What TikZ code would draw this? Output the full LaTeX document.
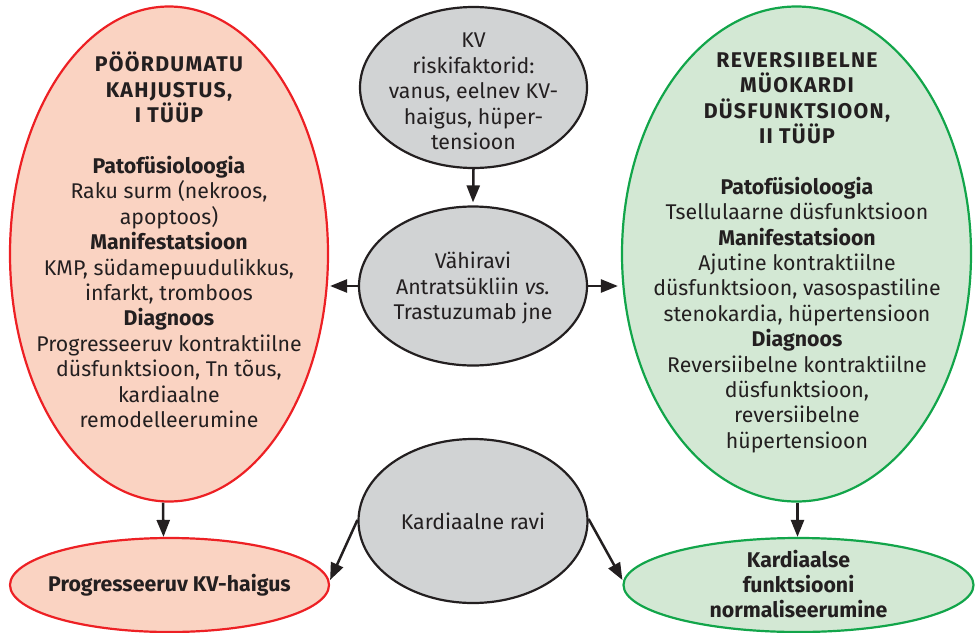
\documentclass[tikz,border=0pt]{standalone}
\usepackage{fontspec}
\setmainfont{Fira Sans}
\usetikzlibrary{shapes.geometric,arrows.meta}
\definecolor{txtc}{HTML}{231F20}
\definecolor{pinkfill}{HTML}{FAD3C2}
\definecolor{redline}{HTML}{ED2024}
\definecolor{greenfill}{HTML}{D3E8D4}
\definecolor{greenline}{HTML}{12A54A}
\definecolor{grayfill}{HTML}{D1D3D4}
\newcommand{\hd}[1]{{\bfseries\addfontfeatures{LetterSpace=6}#1}}
\tikzset{
  shp/.style={ellipse, inner sep=0pt, line width=2.2pt},
  redell/.style={shp, draw=redline, fill=pinkfill},
  greenell/.style={shp, draw=greenline, fill=greenfill},
  grayell/.style={shp, draw=txtc, fill=grayfill},
  tx/.style={align=center, text=txtc, inner sep=0pt, font=\fontsize{21.3}{25.4}\selectfont},
  arr/.style={draw=txtc, line width=2.5pt, -{Triangle[length=17pt,width=13pt]}}
}
\begin{document}
\begin{tikzpicture}[x=1pt,y=-1pt]
\useasboundingbox (0,0) rectangle (977,632);
% shapes
\node[redell, minimum width=318pt, minimum height=495pt] (L) at (169,254) {};
\node[greenell, minimum width=349pt, minimum height=495pt] (R) at (796.5,254) {};
\node[grayell, minimum width=227pt, minimum height=161pt] (T) at (473.5,87.5) {};
\node[grayell, minimum width=228pt, minimum height=159pt] (M) at (473,286) {};
\node[grayell, minimum width=229pt, minimum height=164pt] (B) at (473,521) {};
\node[redell, minimum width=319pt, minimum height=94pt] (LB) at (169.5,585) {};
\node[greenell, minimum width=350pt, minimum height=94pt] (RB) at (798.5,585) {};
% texts
\node[tx] (Lt) at (169,240) {\hd{PÖÖRDUMATU}\\ \hd{KAHJUSTUS,}\\ \hd{I TÜÜP}\\[25.4pt]
  \textbf{Patofüsioloogia}\\ Raku surm (nekroos,\\ apoptoos)\\ \textbf{Manifestatsioon}\\
  KMP, südamepuudulikkus,\\ infarkt, tromboos\\ \textbf{Diagnoos}\\
  Progresseeruv kontraktiilne\\ düsfunktsioon, Tn tõus,\\ kardiaalne\\ remodelleerumine};
\node[tx] (Rt) at (797,252.5) {\hd{REVERSIIBELNE}\\ \hd{MÜOKARDI}\\ \hd{DÜSFUNKTSIOON,}\\ \hd{II TÜÜP}\\[25.4pt]
  \textbf{Patofüsioloogia}\\ Tsellulaarne düsfunktsioon\\ \textbf{Manifestatsioon}\\
  Ajutine kontraktiilne\\ düsfunktsioon, vasospastiline\\ stenokardia, hüpertensioon\\
  \textbf{Diagnoos}\\ Reversiibelne kontraktiilne\\ düsfunktsioon,\\ reversiibelne\\ hüpertensioon};
\node[tx] (Tt) at ([yshift=-4pt]T.center) {KV\\ riskifaktorid:\\ vanus, eelnev KV-\\ haigus, hüper-\\ tensioon};
\node[tx] (Mt) at ([yshift=-2pt]M.center) {Vähiravi\\ Antratsükliin \textit{vs.}\\ Trastuzumab jne};
\node[tx] (Bt) at (B.center) {Kardiaalne ravi};
\node[tx, font=\fontsize{21.3}{25.4}\selectfont\bfseries] (LBt) at (LB.center) {Progresseeruv KV-haigus};
\node[tx, font=\fontsize{21.3}{25.4}\selectfont\bfseries] (RBt) at ([yshift=1pt]RB.center) {Kardiaalse\\ funktsiooni\\ normaliseerumine};
% connectors
\draw[arr] (T.south) -- ([yshift=3pt]M.north);
\draw[arr] (M.west) -- ([xshift=1pt]M.west -| L.east);
\draw[arr] (M.east) -- ([xshift=-3pt]M.east -| R.west);
\draw[arr] ([xshift=-6pt]L.south) -- ([xshift=-6pt]LB.north);
\draw[arr] ([xshift=1pt]R.south) -- ([xshift=-1pt]RB.north);
\draw[arr] ([yshift=1pt]B.west) -- ([yshift=5pt]LB.east);
\draw[arr] ([yshift=2pt]B.east) -- ([yshift=5pt]RB.west);
\end{tikzpicture}
\end{document}
